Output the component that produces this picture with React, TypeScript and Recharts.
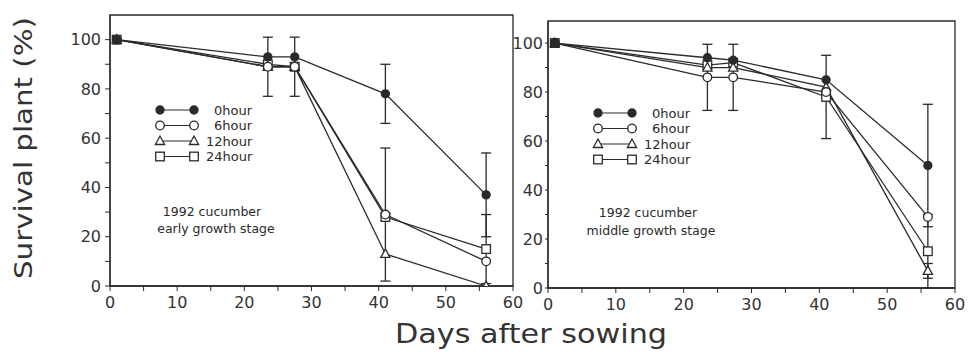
import React from "react";
import { LineChart, Line, XAxis, YAxis, ErrorBar, ReferenceArea } from "recharts";

// early growth stage (left panel)
const DAYS_EARLY = [1, 23.5, 27.5, 41, 56];
const EARLY_0H = [100, 93, 93, 78, 37];
const EARLY_6H = [100, 89, 89, 29, 10];
const EARLY_12H = [100, 89, 89, 13, 0];
const EARLY_24H = [100, 90, 89, 28, 15];
const EARLY_0H_ERR = [null, null, null, 12, 17];
const EARLY_6H_ERR = [null, 12, 12, 27, null];
const EARLY_12H_ERR = [null, null, null, null, null];
const EARLY_24H_ERR = [null, null, null, null, 14];

// middle growth stage (right panel)
const DAYS_MIDDLE = [1, 23.5, 27.3, 41, 56];
const MIDDLE_0H = [100, 94, 93, 85, 50];
const MIDDLE_6H = [100, 86, 86, 80, 29];
const MIDDLE_12H = [100, 90, 90, 82, 7];
const MIDDLE_24H = [100, 91, 92, 78, 15];
const MIDDLE_0H_ERR = [null, null, null, null, 25];
const MIDDLE_6H_ERR = [null, 13.5, 13.5, null, null];
const MIDDLE_12H_ERR = [null, null, null, null, 3];
const MIDDLE_24H_ERR = [null, null, null, 17, 15];

const SERIES_NAMES = ["0hour", "6hour", "12hour", "24hour"];
const MARKERS = ["filled", "circle", "triangle", "square"];
const X_TICKS = [0, 5, 10, 15, 20, 25, 30, 35, 40, 45, 50, 55, 60];
const Y_TICKS = [0, 10, 20, 30, 40, 50, 60, 70, 80, 90, 100];

const INK = "#2a2a2a";
const FONT = "DejaVu Sans";

type Cell = number | null;

function buildRows(days: number[], values: number[][], errors: Cell[][]) {
  return days.map((day, i) => {
    const row: Record<string, Cell> = { day };
    values.forEach((v, s) => {
      row["s" + s] = v[i];
      row["e" + s] = errors[s][i];
    });
    return row;
  });
}

const earlyRows = buildRows(
  DAYS_EARLY,
  [EARLY_0H, EARLY_6H, EARLY_12H, EARLY_24H],
  [EARLY_0H_ERR, EARLY_6H_ERR, EARLY_12H_ERR, EARLY_24H_ERR]
);
const middleRows = buildRows(
  DAYS_MIDDLE,
  [MIDDLE_0H, MIDDLE_6H, MIDDLE_12H, MIDDLE_24H],
  [MIDDLE_0H_ERR, MIDDLE_6H_ERR, MIDDLE_12H_ERR, MIDDLE_24H_ERR]
);

function Marker({ cx, cy, kind }: { cx: number; cy: number; kind: string }) {
  if (cx == null || cy == null) return null;
  const common = { stroke: INK, strokeWidth: 1.3 };
  if (kind === "filled") return <circle cx={cx} cy={cy} r={4} fill={INK} {...common} />;
  if (kind === "circle") return <circle cx={cx} cy={cy} r={4.3} fill="#fff" {...common} />;
  if (kind === "triangle")
    return <polygon points={`${cx},${cy - 5} ${cx - 4.6},${cy + 3.5} ${cx + 4.6},${cy + 3.5}`} fill="#fff" {...common} />;
  return <rect x={cx - 4.3} y={cy - 4.3} width={8.6} height={8.6} fill="#fff" {...common} />;
}

function LegendBlock({ left, top }: { left: number; top: number }) {
  return (
    <svg style={{ position: "absolute", left, top }} width={120} height={64}>
      {SERIES_NAMES.map((name, i) => {
        const y = 6 + i * 15.5;
        return (
          <g key={name}>
            <line x1={6} x2={40} y1={y} y2={y} stroke={INK} strokeWidth={1.2} />
            <Marker cx={6} cy={y} kind={MARKERS[i]} />
            <Marker cx={40} cy={y} kind={MARKERS[i]} />
            <text x={i < 2 ? 60 : 52} y={y + 4.5} fontSize={13} fontFamily={FONT} fill={INK}>
              {name}
            </text>
          </g>
        );
      })}
    </svg>
  );
}

function Panel({
  rows, left, width, yMax, margin, yTickSize, yTickMargin,
}: {
  rows: Record<string, Cell>[]; left: number; width: number; yMax: number;
  margin: { top: number; right: number; left: number; bottom: number };
  yTickSize: number; yTickMargin: number;
}) {
  const tick = { fontSize: 16, fontFamily: FONT, fill: "#333" };
  const order = [3, 2, 1, 0];
  return (
    <div style={{ position: "absolute", left, top: 0 }}>
      <LineChart width={width} height={354} data={rows} margin={margin}>
        <XAxis
          dataKey="day" type="number" domain={[0, 60]} ticks={X_TICKS}
          tickFormatter={(v: number) => (v % 10 === 0 ? String(v) : "")}
          tick={tick} tickSize={5} tickMargin={6} height={30}
          stroke={INK} axisLine={{ stroke: INK, strokeWidth: 1.3 }} allowDataOverflow
        />
        <YAxis
          type="number" domain={[0, yMax]} ticks={Y_TICKS}
          tickFormatter={(v: number) => (v % 20 === 0 ? String(v) : "")}
          tick={tick} tickSize={yTickSize} tickMargin={yTickMargin} width={40}
          stroke={INK} axisLine={{ stroke: INK, strokeWidth: 1.3 }} allowDataOverflow
        />
        <ReferenceArea x1={0} x2={60} y1={0} y2={yMax} fill="none" stroke={INK} strokeWidth={1.3} ifOverflow="visible" />
        {order.map((s) => (
          <Line
            key={s} dataKey={"s" + s} name={SERIES_NAMES[s]} stroke={INK} strokeWidth={1.3}
            type="linear" isAnimationActive={false}
            dot={(p: any) => <Marker key={`${s}-${p.index}`} cx={p.cx} cy={p.cy} kind={MARKERS[s]} />}
          >
            <ErrorBar dataKey={"e" + s} width={5} stroke={INK} strokeWidth={1.3} direction="y" />
          </Line>
        ))}
      </LineChart>
    </div>
  );
}

export default function App() {
  return (
    <div style={{ position: "absolute", left: 0, top: 0, width: 971, height: 354, background: "#fff", overflow: "hidden" }}>
      <Panel rows={earlyRows} left={0} width={540} yMax={110}
        margin={{ top: 15, right: 27, left: 70, bottom: 38 }} yTickSize={5} yTickMargin={4} />
      <Panel rows={middleRows} left={480} width={491} yMax={109}
        margin={{ top: 21, right: 16, left: 28, bottom: 36 }} yTickSize={3} yTickMargin={2} />

      <LegendBlock left={154} top={104} />
      <LegendBlock left={592} top={107} />

      <svg style={{ position: "absolute", left: 0, top: 0 }} width={971} height={354}>
        <text x={212} y={216} fontSize={12.5} fontFamily={FONT} fill={INK} textAnchor="middle">1992 cucumber</text>
        <text x={216} y={233} fontSize={12.5} fontFamily={FONT} fill={INK} textAnchor="middle">early growth stage</text>
        <text x={648} y={217} fontSize={12.5} fontFamily={FONT} fill={INK} textAnchor="middle">1992 cucumber</text>
        <text x={651} y={235} fontSize={12.5} fontFamily={FONT} fill={INK} textAnchor="middle">middle growth stage</text>
        <text x={531} y={343} fontSize={27} fontFamily={FONT} fill="#333" textAnchor="middle"
          textLength={272} lengthAdjust="spacingAndGlyphs">Days after sowing</text>
        <text transform="translate(32,148) rotate(-90)" fontSize={24} fontFamily={FONT} fill="#333"
          textAnchor="middle" textLength={262} lengthAdjust="spacingAndGlyphs">Survival plant (%)</text>
      </svg>
    </div>
  );
}
